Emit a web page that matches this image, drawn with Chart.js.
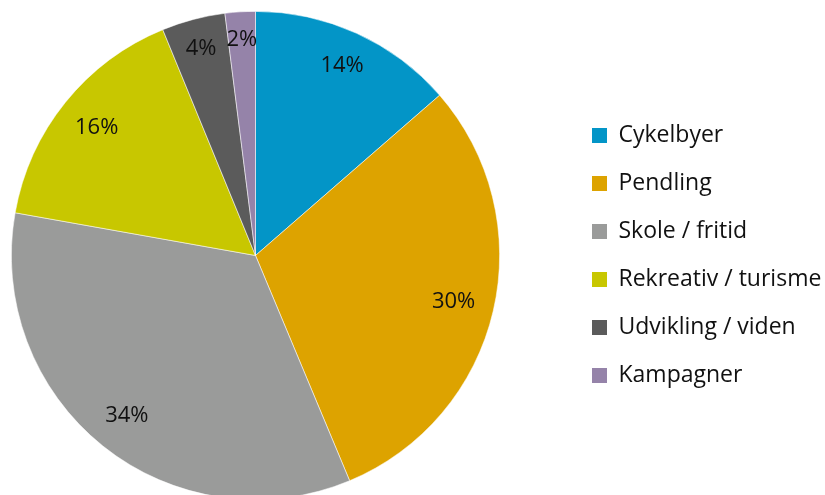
<!DOCTYPE html>
<html>
<head>
<meta charset="utf-8">
<script src="https://cdn.jsdelivr.net/npm/chart.js@4/dist/chart.umd.min.js"></script>
<style>
  html, body { margin: 0; padding: 0; background: #fff; overflow: hidden; width: 825px; height: 495px; }
  #wrap { position: relative; width: 825px; height: 495px; overflow: hidden; }
  #c { position: absolute; top: 0; }
</style>
</head>
<body>
<div id="wrap"><canvas id="c"></canvas></div>
<script>
// ---- data ----
const categories = ["Cykelbyer", "Pendling", "Skole / fritid", "Rekreativ / turisme", "Udvikling / viden", "Kampagner"];
const shares = [13.6, 30.1, 34.1, 16.0, 4.2, 2.0];
const sliceColors = ["#0395C7", "#DDA300", "#9A9B9A", "#C8C700", "#5B5B5B", "#9583A9"];

// ---- style ----
const FONT_FAMILY = "'Open Sans', 'Noto Sans', sans-serif";
const LEGEND_FONT = 23;
const LABEL_FONT = 22;
const BOX = 15;
const LEGEND_BOX_X = 592;   // page x of legend squares
const LEGEND_GAP = 25;      // legend label padding
const PIE_CX = 255.5;       // page x of pie centre
const PIE_TOP = 11;
const PIE_R = 244.5;

// the canvas is shifted left so the pie's chart area can start off-page
const legendLeftPage = LEGEND_BOX_X - LEGEND_GAP;
const OFF = legendLeftPage - 2 * PIE_CX;          // chart area [0, 2*(PIE_CX+OFF)]
const canvasW = 825 + OFF;
const canvasH = PIE_TOP + 2 * PIE_R;
const cv = document.getElementById('c');
cv.width = canvasW; cv.height = canvasH;
cv.style.left = (-OFF) + 'px';

const mctx = document.createElement('canvas').getContext('2d');
mctx.font = LEGEND_FONT + 'px ' + FONT_FAMILY;
const maxTextW = Math.max(...categories.map(t => mctx.measureText(t).width));
const itemW = BOX + LEGEND_FONT / 2 + maxTextW;
const padRight = 825 - LEGEND_BOX_X - 10 - itemW;

const pctLabels = {
  id: 'pctLabels',
  afterDatasetsDraw(chart) {
    const ctx = chart.ctx;
    const meta = chart.getDatasetMeta(0);
    const data = chart.data.datasets[0].data;
    const total = data.reduce((a, b) => a + b, 0);
    ctx.save();
    ctx.font = LABEL_FONT + 'px ' + FONT_FAMILY;
    ctx.fillStyle = '#111';
    ctx.textAlign = 'center';
    ctx.textBaseline = 'middle';
    meta.data.forEach((arc, i) => {
      const p = arc.getProps(['x', 'y', 'startAngle', 'endAngle', 'outerRadius'], true);
      const mid = (p.startAngle + p.endAngle) / 2;
      const ux = Math.cos(mid), uy = Math.sin(mid);
      const txt = Math.round(data[i] / total * 100) + '%';
      const w = ctx.measureText(txt).width, h = 18;
      const cx = Math.sign(ux) * w / 2, cy = Math.sign(uy) * h / 2;
      const uc = ux * cx + uy * cy;
      const cc = cx * cx + cy * cy;
      const L = p.outerRadius - 17.5;
      const d = -uc + Math.sqrt(uc * uc - cc + L * L);
      ctx.fillText(txt, p.x + ux * d, p.y + uy * d);
    });
    ctx.restore();
  }
};

new Chart(cv, {
  type: 'pie',
  data: {
    labels: categories,
    datasets: [{
      data: shares,
      backgroundColor: sliceColors,
      borderColor: 'rgba(255,255,255,0.7)',
      borderWidth: 0.75
    }]
  },
  options: {
    responsive: false,
    devicePixelRatio: 1,
    animation: false,
    layout: { padding: { top: PIE_TOP, bottom: 0, left: 0, right: padRight } },
    plugins: {
      tooltip: { enabled: false },
      legend: {
        position: 'right',
        align: 'center',
        labels: {
          boxWidth: BOX,
          boxHeight: BOX,
          padding: LEGEND_GAP,
          color: '#111',
          font: { family: FONT_FAMILY, size: LEGEND_FONT },
          generateLabels(chart) {
            const items = Chart.overrides.pie.plugins.legend.labels.generateLabels(chart);
            items.forEach(it => { it.lineWidth = 0; it.strokeStyle = 'rgba(0,0,0,0)'; });
            return items;
          }
        }
      }
    }
  },
  plugins: [pctLabels]
});
</script>
</body>
</html>
